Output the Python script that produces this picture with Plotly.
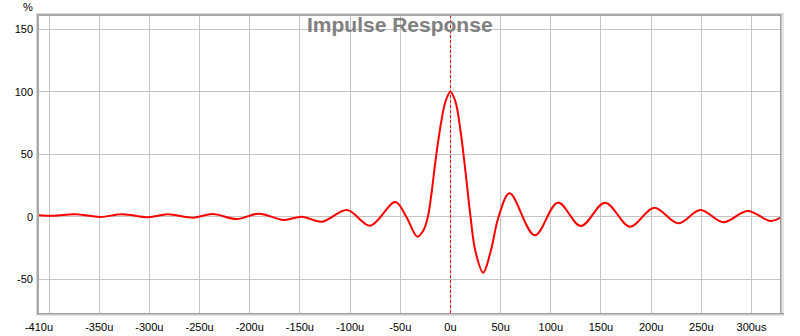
import plotly.graph_objects as go

# ---- data ----
time_us = [-410, -395, -374, -349, -327, -301, -282, -256, -237, -213, -191, -166, -148,
           -128, -103, -80, -55, -44, -33, -27, -22.5, -19, -15, -10, -5, 0, 5, 10, 15, 20,
           25, 32.6, 40, 48, 59, 84, 107, 130, 154, 179, 203, 227, 249, 272, 296, 319, 329]
response_pct = [1.2, 0.8, 2.0, -0.2, 2.0, -0.4, 2.0, -0.7, 2.2, -1.8, 2.5, -2.6, 0.1,
                -3.9, 5.4, -7.1, 11.8, 0, -15.9, -11, 0, 18, 44, 72, 92, 100, 92, 69, 36, 0,
                -28, -44.7, -28, 0, 18.8, -14.8, 11.3, -7.4, 11.3, -7.9, 7.3, -5.2, 5.4,
                -4.4, 4.6, -3.4, -0.7]

x_tickvals = [-410, -400, -350, -300, -250, -200, -150, -100, -50, 0, 50, 100, 150, 200, 250, 300]
x_ticktext = ["-410u", "", "-350u", "-300u", "-250u", "-200u", "-150u", "-100u", "-50u",
              "0u", "50u", "100u", "150u", "200u", "250u", "300us"]
y_tickvals = [-50, 0, 50, 100, 150]
y_ticktext = ["-50", "0", "50", "100", "150"]

X_RANGE = [-410, 328.4]
Y_RANGE = [-77.0, 160.6]

W, H = 800, 336
L, R, T, B = 39, 20, 16, 23
PW, PH = W - L - R, H - T - B


def px(xp):
    return (xp - L) / PW


def py(yp):
    return (H - B - yp) / PH


FONT = "Liberation Sans, Arial, sans-serif"

fig = go.Figure()
fig.add_trace(go.Scatter(
    x=time_us, y=response_pct, mode="lines",
    line=dict(color="#ff0000", width=2, shape="spline", smoothing=1.0),
    hoverinfo="skip", showlegend=False,
))

shapes = []
# dashed marker at 0
shapes.append(dict(type="line", xref="x", yref="paper", x0=0, x1=0, y0=0, y1=1,
                   line=dict(color="#ff0000", width=1, dash="3px,2px"), layer="above"))


def rect(x0, y0, x1, y1, color):
    shapes.append(dict(type="rect", xref="paper", yref="paper",
                       x0=px(x0), x1=px(x1), y0=py(y1), y1=py(y0),
                       fillcolor=color, line=dict(width=0), layer="above"))


# frame bands (3D look)
rect(36, 13, 37, 316, "#d8d8d8")
rect(37, 13, 39, 316, "#a8a8a8")
rect(36, 13, 784, 14, "#d8d8d8")
rect(37, 14, 784, 16, "#a8a8a8")
rect(780, 14, 781, 316, "#a0a0a0")
rect(781, 14, 782, 316, "#c4c4c4")
rect(782, 14, 784, 316, "#e4e4e4")
rect(37, 313, 784, 314, "#a0a0a0")
rect(37, 314, 784, 315, "#c4c4c4")
rect(37, 315, 784, 316, "#e4e4e4")

annotations = [
    dict(text="<b>Impulse Response</b>", xref="paper", yref="paper",
         x=px(400), y=py(25), xanchor="center", yanchor="middle", showarrow=False,
         font=dict(family=FONT, size=21, color="#808080")),
    dict(text="%", xref="paper", yref="paper", x=px(28), y=py(7),
         xanchor="center", yanchor="middle", showarrow=False,
         font=dict(family=FONT, size=11, color="#000000")),
]

fig.update_layout(
    width=W, height=H,
    margin=dict(l=L, r=R, t=T, b=B, pad=0, autoexpand=False),
    paper_bgcolor="white", plot_bgcolor="white",
    font=dict(family=FONT, size=11, color="#000000"),
    shapes=shapes, annotations=annotations,
    xaxis=dict(range=X_RANGE, tickmode="array", tickvals=x_tickvals, ticktext=x_ticktext,
               showgrid=True, gridcolor="#c4c4c4", gridwidth=1, zeroline=False,
               showline=False, ticks="", ticklabelstandoff=6, automargin=False,
               fixedrange=True),
    yaxis=dict(range=Y_RANGE, tickmode="array", tickvals=y_tickvals, ticktext=y_ticktext,
               showgrid=True, gridcolor="#c4c4c4", gridwidth=1, zeroline=False,
               showline=False, ticks="", ticklabelstandoff=5, automargin=False,
               fixedrange=True),
)

fig.write_html("out.html")
